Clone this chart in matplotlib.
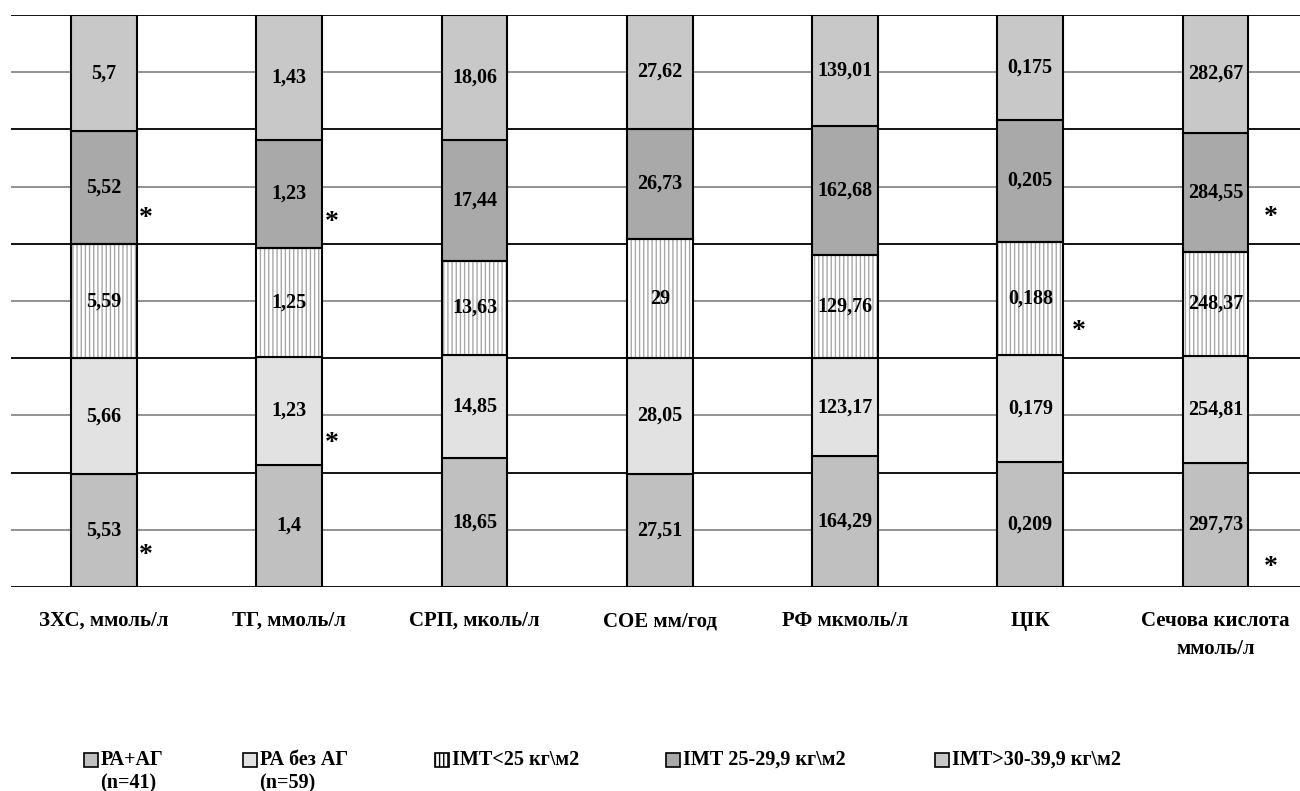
import matplotlib
matplotlib.use("Agg")
import matplotlib.pyplot as plt
from matplotlib.patches import Rectangle
import matplotlib.transforms as mtransforms
import numpy as np

categories = ["ЗХС, ммоль/л", "ТГ, ммоль/л", "СРП, мколь/л", "СОЕ мм/год",
              "РФ мкмоль/л", "ЦІК", "Сечова кислота\nммоль/л"]
series_names = ["РА+АГ\n(n=41)", "РА без АГ\n(n=59)", "ІМТ<25 кг\\м2",
                "ІМТ 25-29,9 кг\\м2", "ІМТ>30-39,9 кг\\м2"]
s_ra_ag = [5.53, 1.4, 18.65, 27.51, 164.29, 0.209, 297.73]
s_ra_no_ag = [5.66, 1.23, 14.85, 28.05, 123.17, 0.179, 254.81]
s_imt_lt25 = [5.59, 1.25, 13.63, 29, 129.76, 0.188, 248.37]
s_imt_25_29 = [5.52, 1.23, 17.44, 26.73, 162.68, 0.205, 284.55]
s_imt_30_39 = [5.7, 1.43, 18.06, 27.62, 139.01, 0.175, 282.67]
# asterisks: (category index, series index, fractional height within the bar)
asterisks = [(0, 0, 0.065), (0, 3, 0.654), (1, 1, 0.262), (1, 3, 0.647),
             (5, 2, 0.458), (6, 3, 0.656), (6, 0, 0.044)]
ast_offsets = {0: 0.05, 1: 0.05, 5: 0.085, 6: 0.12}

series = [s_ra_ag, s_ra_no_ag, s_imt_lt25, s_imt_25_29, s_imt_30_39]
colors = ["#c0c0c0", "#e2e2e2", "#ffffff", "#a9a9a9", "#c8c8c8"]
hatches = [None, None, "||||", None, None]

FONT = ["Liberation Serif", "DejaVu Serif"]
plt.rcParams['font.family'] = FONT
plt.rcParams['font.weight'] = 'bold'

fig = plt.figure(figsize=(13, 7.91), dpi=100)
ax = fig.add_axes([11/1300, 1-587/791, 1-11/1300, (587-15)/791])

data = np.array(series, dtype=float)
totals = data.sum(axis=0)
frac = data / totals
x = np.arange(len(categories))
width = 0.356

ax.set_ylim(0, 1)
ax.set_xlim(-0.502, 6.456)

for y in np.arange(0.1, 1.0, 0.2):
    ax.axhline(y, color="#808080", lw=1.2, zorder=0)
for y in np.arange(0, 1.01, 0.2):
    ax.axhline(y, color="black", lw=1.3, zorder=0)

bottom = np.zeros(len(categories))
for i, (vals, f) in enumerate(zip(series, frac)):
    if hatches[i]:
        ax.bar(x, f, width, bottom=bottom, color=colors[i], hatch=hatches[i],
               edgecolor="#a8a8a8", linewidth=0, zorder=2)
        ax.bar(x, f, width, bottom=bottom, fill=False, edgecolor="black",
               linewidth=1.5, zorder=3)
    else:
        ax.bar(x, f, width, bottom=bottom, color=colors[i], edgecolor="black",
               linewidth=1.5, zorder=2)
    for j in range(len(categories)):
        lab = f"{vals[j]:g}".replace(".", ",")
        ax.text(x[j], bottom[j] + f[j] / 2, lab, ha="center", va="center",
                fontsize=14.5, fontweight="bold", zorder=4)
    bottom += f

ast_tr = ax.transData + mtransforms.ScaledTranslation(0, -6 / 100, fig.dpi_scale_trans)
for (c, s, h) in asterisks:
    ax.text(x[c] + width / 2 + ast_offsets[c], h, "*", ha="center", va="center",
            fontsize=20, fontweight="bold", zorder=4, transform=ast_tr)

for j, c in enumerate(categories):
    ax.text(x[j], -0.042, c, ha="center", va="top", fontsize=15,
            fontweight="bold", linespacing=1.5, transform=ax.transData)

for sp in ax.spines.values():
    sp.set_visible(False)
ax.set_xticks([])
ax.set_yticks([])

# legend
leg_x = [84, 243, 435, 666, 935]
leg_y = 760
for i, name in enumerate(series_names):
    sx = leg_x[i] / 1300
    sy = 1 - (leg_y + 7) / 791
    r = Rectangle((sx, sy), 14 / 1300, 14 / 791, transform=fig.transFigure,
                  facecolor=colors[i], edgecolor="black", linewidth=1.2,
                  hatch=hatches[i] if hatches[i] else None)
    fig.patches.append(r)
    lines = name.split("\n")
    fig.text((leg_x[i] + 17) / 1300, 1 - leg_y / 791, lines[0], ha="left",
             va="center", fontsize=14.5, fontweight="bold")
    if len(lines) > 1:
        fig.text((leg_x[i] + 16) / 1300, 1 - (leg_y + 23) / 791, lines[1],
                 ha="left", va="center", fontsize=14.5, fontweight="bold")

fig.savefig("out.png", dpi=100)
